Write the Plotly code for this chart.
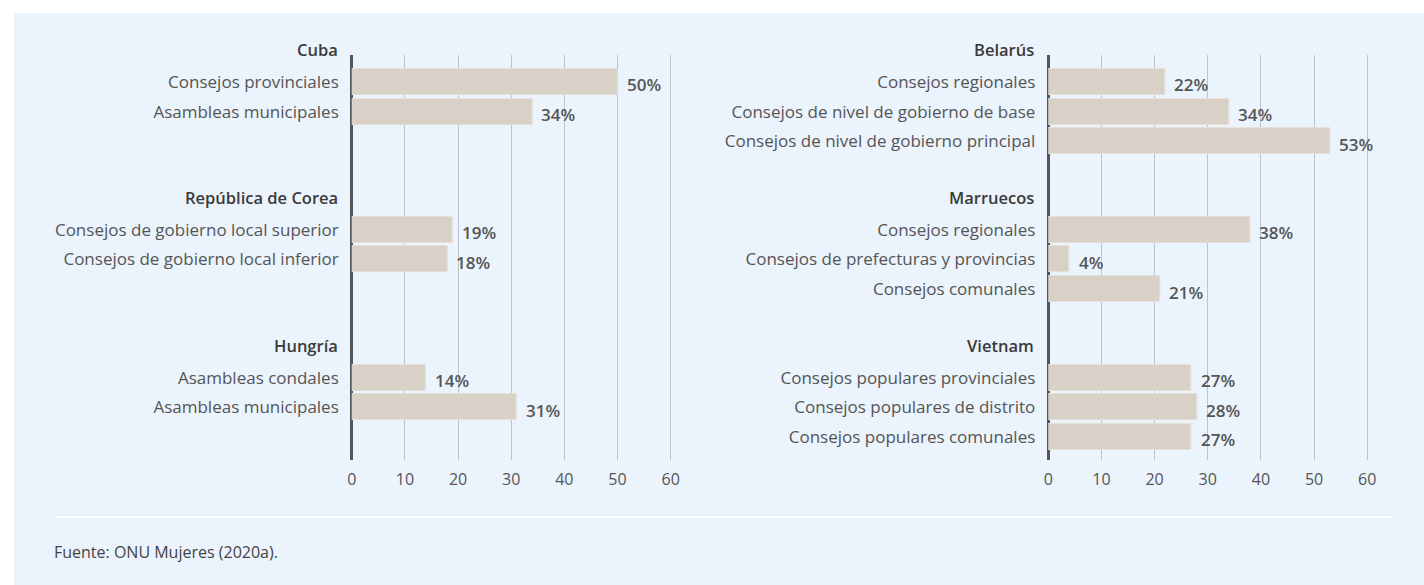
import plotly.graph_objects as go

# ---------------- data ----------------
left_groups = ["Cuba", "República de Corea", "Hungría"]
left_labels = [
    ["Consejos provinciales", "Asambleas municipales"],
    ["Consejos de gobierno local superior", "Consejos de gobierno local inferior"],
    ["Asambleas condales", "Asambleas municipales"],
]
left_values = [[50, 34], [19, 18], [14, 31]]

right_groups = ["Belarús", "Marruecos", "Vietnam"]
right_labels = [
    ["Consejos regionales", "Consejos de nivel de gobierno de base",
     "Consejos de nivel de gobierno principal"],
    ["Consejos regionales", "Consejos de prefecturas y provincias", "Consejos comunales"],
    ["Consejos populares provinciales", "Consejos populares de distrito",
     "Consejos populares comunales"],
]
right_values = [[22, 34, 53], [38, 4, 21], [27, 28, 27]]

x_ticks = [0, 10, 20, 30, 40, 50, 60]
source = "Fuente: ONU Mujeres (2020a)."

# ---------------- layout constants ----------------
W, H = 1424, 585
FONT = "Open Sans"
BG = "#EBF3FC"
BAR = "#D9D0C7"
BAR_EDGE = "#E6E0D9"
GRID = "#BCC3CB"
TXT = "#555555"
HEAD = "#3A3A3A"
ROWS_PER_GROUP = 5
ROW_A, ROW_B = 52.4, 29.58   # y_px = ROW_A + ROW_B * row

fig = go.Figure()


def px_x(p):
    return p / W


def px_y(p):
    return 1 - p / H


def add_panel(groups, labels, values, xr, yr, axis_px):
    ys, xs, names = [], [], []
    for gi, (g, labs, vals) in enumerate(zip(groups, labels, values)):
        base = gi * ROWS_PER_GROUP
        for bi, (lab, v) in enumerate(zip(labs, vals)):
            ys.append(base + 1 + bi)
            xs.append(v)
            names.append(lab)
        fig.add_annotation(
            x=px_x(axis_px - 12), y=px_y(ROW_A + ROW_B * base - 3),
            xref="paper", yref="paper",
            text=g, showarrow=False, xanchor="right", yanchor="middle",
            font=dict(family=FONT, size=16.5, color=HEAD, weight=600),
        )
    fig.add_trace(go.Bar(
        x=xs, y=ys, orientation="h", xaxis=xr, yaxis=yr,
        marker=dict(color=BAR, line=dict(color=BAR_EDGE, width=1)),
        width=0.88, showlegend=False, hoverinfo="skip",
    ))
    for xv, yv in zip(xs, ys):
        fig.add_annotation(
            x=xv, y=yv, xref=xr, yref=yr, text=f"{xv}%", showarrow=False,
            xanchor="left", yanchor="middle", xshift=7, yshift=-3,
            font=dict(family=FONT, size=17, color=TXT, weight=600),
        )
    return ys, names


ys_l, names_l = add_panel(left_groups, left_labels, left_values, "x", "y", 348)
ys_r, names_r = add_panel(right_groups, right_labels, right_values, "x2", "y2", 1047)

# plot area 55..460 px
r_top = (55 - ROW_A) / ROW_B
r_bot = (460 - ROW_A) / ROW_B
ydom = [px_y(460), px_y(55)]

xaxis_common = dict(
    range=[0, 66], tickvals=x_ticks, showgrid=True, gridcolor=GRID, gridwidth=1,
    zeroline=True, zerolinecolor="#555555", zerolinewidth=2.5, showline=False,
    ticks="outside", ticklen=0, ticklabelstandoff=5,
    tickfont=dict(family=FONT, size=16, color=TXT), fixedrange=True,
)
yaxis_common = dict(
    range=[r_bot, r_top], domain=ydom, showgrid=False, zeroline=False, showline=False,
    ticks="", ticklabelstandoff=12,
    tickfont=dict(family=FONT, size=17, color=TXT), fixedrange=True,
)

fig.update_layout(
    width=W, height=H, margin=dict(l=0, r=0, t=0, b=0),
    paper_bgcolor="white", plot_bgcolor="rgba(0,0,0,0)",
    xaxis=dict(domain=[px_x(348), px_x(700)], anchor="y", **xaxis_common),
    xaxis2=dict(domain=[px_x(1047), px_x(1399)], anchor="y2", **xaxis_common),
    yaxis=dict(anchor="x", tickvals=ys_l, ticktext=names_l, **yaxis_common),
    yaxis2=dict(anchor="x2", tickvals=ys_r, ticktext=names_r, **yaxis_common),
    bargap=0,
    shapes=[
        dict(type="rect", xref="paper", yref="paper", x0=px_x(9), x1=1.0,
             y0=0.0, y1=px_y(13), fillcolor=BG, line=dict(width=0), layer="below"),
        dict(type="line", xref="paper", yref="paper", x0=px_x(50), x1=px_x(1393),
             y0=px_y(517), y1=px_y(517), line=dict(color="white", width=2)),
    ],
)
fig.add_annotation(
    x=px_x(47), y=px_y(552), xref="paper", yref="paper", text=source, showarrow=False,
    xanchor="left", yanchor="middle", font=dict(family=FONT, size=16, color="#444444"),
)

fig.write_html(
    "out.html",
    config={"displayModeBar": False},
    post_script="document.body.style.margin='0';document.body.style.overflow='hidden';",
)
